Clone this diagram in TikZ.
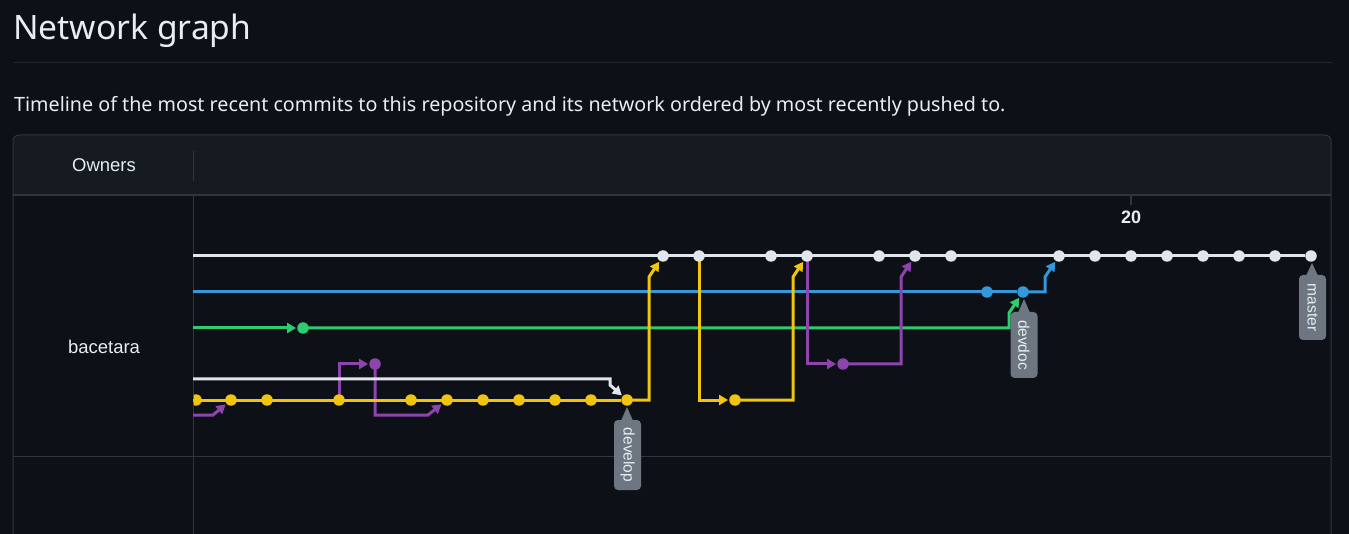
\documentclass[tikz,border=0pt]{standalone}
\usepackage{fontspec}
\setmainfont{Noto Sans}
\newfontfamily\arialf{Liberation Sans}
\usetikzlibrary{arrows.meta}
\pgfdeclarelayer{bottom}
\pgfdeclarelayer{background}
\pgfsetlayers{bottom,background,main}
\definecolor{bg}{HTML}{0D1117}
\definecolor{headbg}{HTML}{161B22}
\definecolor{cborder}{HTML}{30363D}
\definecolor{crule}{HTML}{21262D}
\definecolor{ctext}{HTML}{E6EDF3}
\definecolor{cwhite}{HTML}{E1E6EC}
\definecolor{cblue}{HTML}{3498DB}
\definecolor{cgreen}{HTML}{2ECC71}
\definecolor{cyellow}{HTML}{F1C40F}
\definecolor{cpurple}{HTML}{8E44AD}
\definecolor{cgray}{HTML}{6E7681}
\tikzset{
  edge/.style={line width=3pt, draw=#1, line cap=butt, line join=miter},
  arr/.style={-{Triangle[length=9pt,width=10pt]}, shorten >=1pt},
  cdot/.style={circle, fill=#1, inner sep=0pt, minimum size=11.5pt},
  reflabel/.style={fill=cgray, rounded corners=4pt, rotate=-90, text=ctext,
    font=\arialf\fontsize{15.5}{15}\selectfont, inner sep=0pt, minimum height=27pt},
  celltext/.style={text=ctext, font=\arialf\fontsize{18.5}{20}\selectfont, inner sep=0pt}
}
\begin{document}
\begin{tikzpicture}[x=1pt,y=-1pt]
\useasboundingbox (0,0) rectangle (1349,534);
\begin{pgfonlayer}{bottom}
\fill[bg] (0,0) rectangle (1349,534);
% table frame
\fill[headbg, rounded corners=6pt] (13,135) rectangle (1331,195);
\fill[headbg] (13,185) rectangle (1331,195);
\draw[cborder, line width=1pt, rounded corners=6pt] (13,534) -- (13,135) -- (1331,135) -- (1331,534);
\draw[cborder, line width=1.2pt] (13,195) -- (1331,195);
\draw[cborder, line width=1pt] (13,456) -- (1331,456);
\draw[cborder, line width=1pt] (193,151) -- (193,181);
\draw[cborder, line width=1pt] (193,195) -- (193,534);
\draw[crule, line width=1pt] (13,63) -- (1332,63);
\draw[cborder, line width=1.5pt] (1131,196) -- (1131,205);
\end{pgfonlayer}

% title and intro
\node[anchor=base west, inner sep=0pt, text=ctext, font=\fontsize{33.6}{38}\selectfont] (title) at (13,40) {Network graph};
\node[anchor=base west, inner sep=0pt, text=ctext, font=\fontsize{19.7}{22}\selectfont] (intro) at (14,112) {Timeline of the most recent commits to this repository and its network ordered by most recently pushed to.};

\node[celltext] (owners) at (104,165) {Owners};
\node[celltext] (owner1) at (104,347) {bacetara};
\node[text=ctext, font=\arialf\bfseries\fontsize{18}{20}\selectfont, inner sep=0pt] (tick20) at (1131,217) {20};

% free ends of the lines
\coordinate (sM) at (193,256);
\coordinate (sB) at (193,292);
\coordinate (sG) at (193,328);
\coordinate (sW) at (193,379);
\coordinate (sY) at (193,400);
\coordinate (sP) at (193,415);

% commits: master row
\foreach \c/\x in {13/663,14/699,16/771,17/807,19/879,20/915,21/951,24/1059,25/1095,26/1131,27/1167,28/1203,29/1239,30/1275,31/1311}
  \node[cdot=cwhite] (m\c) at (\x,256) {};
% blue row
\node[cdot=cblue] (b22) at (987,292) {};
\node[cdot=cblue] (b23) at (1023,292) {};
% green row
\node[cdot=cgreen] (g3) at (303,328) {};
% purple row
\node[cdot=cpurple] (p5) at (375,364) {};
\node[cdot=cpurple] (p18) at (843,364) {};
% yellow row
\begin{scope}
\clip (193.5,380) rectangle (220,420);
\node[cdot=cyellow] (y0) at (196,400) {};
\end{scope}
\foreach \c/\x in {1/231,2/267,4/339,6/411,7/447,8/483,9/519,10/555,11/591,12/627,15/735}
  \node[cdot=cyellow] (y\c) at (\x,400) {};

\begin{pgfonlayer}{background}
% master
\draw[edge=cwhite] (sM) -- (m31);
% blue
\draw[edge=cblue] (sB) -- (b23);
\draw[edge=cblue, arr] (b23.center) -- (1045,292) -- (1045,277) -- (m24);
% green
\draw[edge=cgreen, arr] (sG) -- (g3);
\draw[edge=cgreen, arr] (g3.center) -- (1009,328) -- (1009,313) -- (b23);
% purple
\draw[edge=cpurple, arr] (sP) -- (213,415) -- (y1);
\draw[edge=cpurple, arr] (y4.center) -- (339,364) -- (p5);
\draw[edge=cpurple, arr] (p5.center) -- (375,415) -- (428,415) -- (y7);
% second white line
\draw[edge=cwhite, arr] (sW) -- (610,379) -- (610,385) -- (y12);
% yellow
\draw[edge=cyellow] (sY) -- (y12);
\draw[edge=cyellow, arr] (y12.center) -- (649,400) -- (649,277) -- (m13);
\draw[edge=cyellow, arr] (m14.center) -- (699,400) -- (y15);
\draw[edge=cyellow, arr] (y15.center) -- (793,400) -- (793,277) -- (m17);
% purple from master
\draw[edge=cpurple, arr] (m17.center) -- (807,364) -- (p18);
\draw[edge=cpurple, arr] (p18.center) -- (901,364) -- (901,277) -- (m20);
\end{pgfonlayer}

% branch labels
\fill[cgray] (620,423) -- (627,407) -- (634,423) -- cycle;
\node[reflabel, minimum width=70pt] (ldevelop) at (627.5,455) {develop};
\fill[cgray] (1017,315) -- (1024,299) -- (1031,315) -- cycle;
\node[reflabel, minimum width=66pt] (ldevdoc) at (1024,345) {devdoc};
\fill[cgray] (1305,278) -- (1312,263) -- (1319,278) -- cycle;
\node[reflabel, minimum width=65pt] (lmaster) at (1312.5,307.5) {master};
\end{tikzpicture}
\end{document}
